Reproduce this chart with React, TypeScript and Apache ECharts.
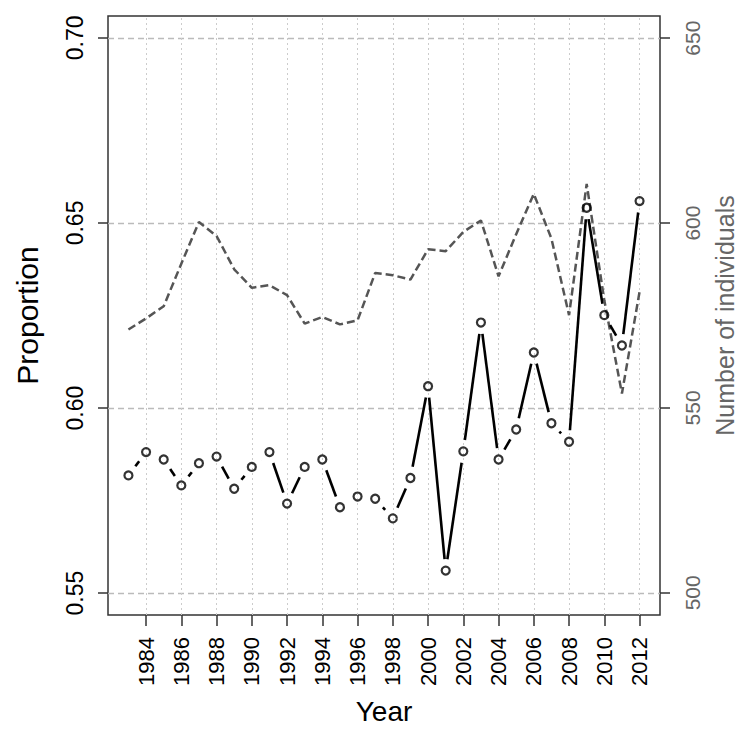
import React, { useEffect, useRef } from "react";
import * as echarts from "echarts";

const years = [
  1983, 1984, 1985, 1986, 1987, 1988, 1989, 1990, 1991, 1992,
  1993, 1994, 1995, 1996, 1997, 1998, 1999, 2000, 2001, 2002,
  2003, 2004, 2005, 2006, 2007, 2008, 2009, 2010, 2011, 2012,
];

const proportion = [
  0.5818, 0.5881, 0.5861, 0.5791, 0.5851, 0.5869, 0.5782, 0.5841, 0.5881, 0.5742,
  0.5841, 0.5861, 0.5732, 0.5761, 0.5755, 0.5702, 0.5811, 0.6059, 0.5561, 0.5883,
  0.6231, 0.5861, 0.5942, 0.615, 0.5959, 0.5909, 0.6541, 0.6251, 0.6169, 0.6559,
];

const individuals = [
  571.2, 574.2, 577.5, 589.0, 600.3, 596.5, 587.5, 582.5, 583.2, 580.5,
  572.8, 574.6, 572.6, 573.7, 586.5, 585.9, 584.7, 592.9, 592.4, 597.6,
  600.7, 585.6, 597.0, 607.9, 595.8, 575.1, 610.6, 579.1, 553.9, 581.4,
];

const yearTicks = [
  1984, 1986, 1988, 1990, 1992, 1994, 1996, 1998, 2000, 2002, 2004, 2006, 2008, 2010, 2012,
];
const proportionTicks = [0.55, 0.6, 0.65, 0.7];
const individualTicks = [500, 550, 600, 650];

const FONT = "'Liberation Sans', Arial, sans-serif";

export default function App() {
  const ref = useRef<HTMLDivElement>(null);

  useEffect(() => {
    const chart = echarts.init(ref.current!, null, { renderer: "svg" });

    const segments = years.slice(0, -1).map((y, i) => [
      y,
      proportion[i],
      years[i + 1],
      proportion[i + 1],
    ]);

    const gap = 11.5;

    chart.setOption({
      animation: false,
      backgroundColor: "#ffffff",
      textStyle: { fontFamily: FONT },
      grid: {
        left: 108,
        right: 90,
        top: 16,
        bottom: 121,
        show: true,
        borderColor: "#333",
        borderWidth: 1.5,
        backgroundColor: "transparent",
      },
      xAxis: {
        type: "value",
        min: 1981.84,
        max: 2013.16,
        axisLine: { show: false },
        splitLine: { show: false },
        axisTick: {
          show: true,
          customValues: yearTicks,
          length: 11,
          lineStyle: { color: "#333", width: 1.5 },
        },
        axisLabel: {
          customValues: yearTicks,
          rotate: 90,
          margin: 22,
          fontSize: 22,
          color: "#000",
          fontFamily: FONT,
          formatter: (v: number) => String(v),
        },
        name: "Year",
        nameLocation: "middle",
        nameGap: 82,
        nameTextStyle: { fontSize: 28, color: "#000", fontFamily: FONT },
      },
      yAxis: [
        {
          type: "value",
          position: "left",
          min: 0.5441,
          max: 0.7059,
          axisLine: { show: false },
          splitLine: { show: false },
          axisTick: {
            show: true,
            customValues: proportionTicks,
            length: 10,
            lineStyle: { color: "#333", width: 1.5 },
          },
          axisLabel: {
            customValues: proportionTicks,
            rotate: 90,
            margin: 22,
            fontSize: 23,
            color: "#000",
            fontFamily: FONT,
            formatter: (v: number) => v.toFixed(2),
          },
          name: "Proportion",
          nameLocation: "middle",
          nameRotate: 90,
          nameGap: 66,
          nameTextStyle: { fontSize: 30, color: "#000", fontFamily: FONT },
        },
        {
          type: "value",
          position: "right",
          min: 494,
          max: 656,
          axisLine: { show: false },
          splitLine: { show: false },
          axisTick: {
            show: true,
            customValues: individualTicks,
            length: 10,
            lineStyle: { color: "#333", width: 1.5 },
          },
          axisLabel: {
            customValues: individualTicks,
            rotate: 90,
            margin: 22,
            fontSize: 21,
            color: "#666",
            fontFamily: FONT,
            formatter: (v: number) => String(v),
          },
          name: "Number of individuals",
          nameLocation: "middle",
          nameRotate: 90,
          nameGap: 52,
          nameTextStyle: { fontSize: 25, color: "#666", fontFamily: FONT },
        },
      ],
      series: [
        {
          name: "individuals",
          type: "line",
          yAxisIndex: 1,
          data: years.map((y, i) => [y, individuals[i]]),
          symbol: "none",
          z: 2,
          lineStyle: { color: "#555", width: 2.5, type: [8, 4] },
        },
        {
          name: "proportionSegments",
          type: "custom",
          yAxisIndex: 0,
          z: 3,
          data: segments,
          encode: { x: [0, 2], y: [1, 3] },
          renderItem: (params: any, api: any) => {
            const p0 = api.coord([api.value(0), api.value(1)]);
            const p1 = api.coord([api.value(2), api.value(3)]);
            const dx = p1[0] - p0[0];
            const dy = p1[1] - p0[1];
            const len = Math.hypot(dx, dy);
            if (len <= 2 * gap) return null;
            const ux = dx / len;
            const uy = dy / len;
            return {
              type: "line",
              shape: {
                x1: p0[0] + ux * gap,
                y1: p0[1] + uy * gap,
                x2: p1[0] - ux * gap,
                y2: p1[1] - uy * gap,
              },
              style: { stroke: "#000", lineWidth: 2.6 },
            };
          },
        },
        {
          name: "proportion",
          type: "scatter",
          yAxisIndex: 0,
          z: 4,
          data: years.map((y, i) => [y, proportion[i]]),
          symbol: "circle",
          symbolSize: 8,
          itemStyle: {
            color: "rgba(255,255,255,0)",
            borderColor: "#000",
            borderWidth: 2.2,
          },
          markLine: {
            silent: true,
            z: 1,
            symbol: ["none", "none"],
            label: { show: false },
            data: [
              ...proportionTicks.map((v) => ({
                yAxis: v,
                lineStyle: { color: "#bbb", width: 1.3, type: [6, 4] },
              })),
              ...yearTicks.map((v) => ({
                xAxis: v,
                lineStyle: { color: "#ccc", width: 1, type: [2, 3] },
              })),
            ],
          },
        },
      ],
    });

    return () => chart.dispose();
  }, []);

  return (
    <div
      ref={ref}
      style={{ position: "fixed", left: 0, top: 0, width: 750, height: 736 }}
    />
  );
}
